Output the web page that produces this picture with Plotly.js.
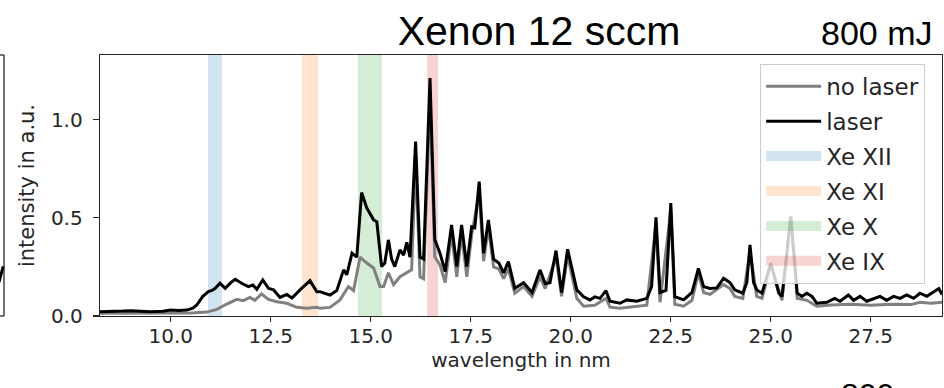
<!DOCTYPE html>
<html><head><meta charset="utf-8">
<script src="https://cdn.plot.ly/plotly-3.0.1.min.js"></script>
<style>html,body{margin:0;padding:0;background:#fff}#chart{width:944px;height:388px}</style>
</head><body><div id="chart"></div>
<script>
// ---- data ----
const wavelengthLaser = [8.23,8.5,8.8,9.0,9.2,9.5,9.8,10.0,10.2,10.4,10.55,10.65,10.8,10.94,11.03,11.11,11.23,11.36,11.5,11.61,11.77,11.94,12.05,12.15,12.3,12.44,12.57,12.73,12.9,13.03,13.23,13.48,13.65,13.73,13.85,13.98,14.15,14.32,14.4,14.53,14.65,14.77,14.9,14.98,15.07,15.15,15.2,15.27,15.35,15.44,15.52,15.6,15.73,15.82,15.9,15.98,16.12,16.23,16.32,16.48,16.6,16.73,16.86,17.02,17.15,17.27,17.4,17.52,17.6,17.71,17.82,17.94,18.07,18.2,18.32,18.44,18.6,18.82,19.03,19.23,19.36,19.48,19.63,19.77,19.92,20.03,20.15,20.32,20.48,20.6,20.73,20.88,20.98,21.23,21.4,21.65,21.9,22.02,22.13,22.23,22.38,22.5,22.6,22.82,23.03,23.19,23.32,23.48,23.65,23.82,23.98,24.1,24.3,24.4,24.48,24.57,24.65,24.78,25.0,25.2,25.28,25.5,25.66,25.78,25.9,26.03,26.15,26.4,26.6,26.73,26.94,27.07,27.23,27.4,27.57,27.73,27.9,28.07,28.23,28.4,28.57,28.73,28.9,29.07,29.2,29.28];
const intensityLaser = [0.022,0.022,0.025,0.027,0.024,0.022,0.024,0.03,0.028,0.03,0.04,0.056,0.1,0.124,0.13,0.141,0.167,0.141,0.17,0.187,0.167,0.15,0.158,0.136,0.184,0.141,0.133,0.095,0.11,0.092,0.133,0.18,0.124,0.124,0.115,0.107,0.13,0.235,0.21,0.32,0.30,0.629,0.55,0.524,0.49,0.48,0.39,0.252,0.27,0.388,0.29,0.252,0.337,0.31,0.375,0.30,0.889,0.30,0.29,1.213,0.39,0.32,0.226,0.464,0.252,0.464,0.252,0.455,0.45,0.685,0.32,0.49,0.29,0.27,0.22,0.277,0.141,0.17,0.12,0.235,0.165,0.17,0.333,0.12,0.34,0.245,0.133,0.098,0.082,0.098,0.09,0.129,0.075,0.065,0.082,0.075,0.09,0.15,0.503,0.12,0.13,0.575,0.098,0.082,0.12,0.243,0.15,0.14,0.143,0.192,0.17,0.133,0.116,0.17,0.362,0.17,0.133,0.116,0.27,0.116,0.099,0.507,0.116,0.1,0.116,0.1,0.065,0.07,0.09,0.075,0.107,0.08,0.1,0.075,0.09,0.1,0.08,0.1,0.09,0.107,0.09,0.116,0.1,0.124,0.14,0.11];
const wavelengthNoLaser = [8.23,9.0,10.0,10.5,10.9,11.15,11.4,11.65,11.81,11.98,12.1,12.27,12.44,12.65,12.9,13.15,13.4,13.65,13.73,13.98,14.23,14.44,14.57,14.73,14.9,15.07,15.23,15.32,15.44,15.57,15.73,15.9,16.02,16.12,16.23,16.32,16.48,16.6,16.73,16.86,17.02,17.15,17.27,17.4,17.52,17.71,17.82,17.94,18.07,18.2,18.32,18.44,18.6,18.82,19.03,19.23,19.36,19.63,19.77,19.92,20.03,20.15,20.32,20.6,20.88,20.98,21.23,21.65,21.9,22.13,22.23,22.5,22.6,22.82,23.03,23.19,23.32,23.48,23.82,23.98,24.1,24.3,24.48,24.65,24.78,25.0,25.28,25.5,25.66,25.9,26.15,26.5,27.0,27.5,28.0,28.5,28.73,29.0,29.28];
const intensityNoLaser = [0.014,0.015,0.014,0.015,0.02,0.034,0.061,0.085,0.078,0.095,0.08,0.112,0.085,0.073,0.065,0.044,0.04,0.044,0.039,0.044,0.082,0.15,0.13,0.30,0.27,0.245,0.15,0.15,0.22,0.16,0.20,0.22,0.235,0.8,0.2,0.19,1.12,0.3,0.26,0.17,0.42,0.2,0.42,0.2,0.41,0.63,0.28,0.45,0.25,0.24,0.19,0.24,0.116,0.15,0.1,0.2,0.14,0.3,0.1,0.31,0.2,0.09,0.05,0.055,0.09,0.045,0.04,0.048,0.055,0.47,0.07,0.54,0.06,0.05,0.08,0.22,0.12,0.11,0.16,0.14,0.1,0.09,0.33,0.1,0.09,0.26,0.08,0.507,0.09,0.08,0.05,0.056,0.06,0.055,0.06,0.058,0.07,0.065,0.07];
const bandNames = ['Xe XII', 'Xe XI', 'Xe X', 'Xe IX'];
const bandStart = [10.93, 13.28, 14.68, 16.41];
const bandEnd = [11.28, 13.68, 15.28, 16.68];
const bandColors = ['rgba(31,119,180,0.2)', 'rgba(255,127,14,0.2)', 'rgba(44,160,44,0.2)', 'rgba(214,39,40,0.2)'];
const xTickVals = [10, 12.5, 15, 17.5, 20, 22.5, 25, 27.5];
const xTickText = ['10.0', '12.5', '15.0', '17.5', '20.0', '22.5', '25.0', '27.5'];
const yTickVals = [0, 0.5, 1.0];
const yTickText = ['0.0', '0.5', '1.0'];
const X_RANGE = [8.23, 29.28];
const Y_RANGE = [0, 1.33];

const FONT = 'DejaVu Sans, sans-serif';
const traces = [];
bandNames.forEach((name, i) => {
  // shaded wavelength band (axvspan-like)
  traces.push({
    type: 'scatter', mode: 'lines', name: name, showlegend: false,
    x: [bandStart[i], bandStart[i], bandEnd[i], bandEnd[i]],
    y: [Y_RANGE[0], Y_RANGE[1], Y_RANGE[1], Y_RANGE[0]],
    fill: 'toself', fillcolor: bandColors[i],
    line: {width: 0, color: bandColors[i]}, hoverinfo: 'skip'
  });
  // legend entry for the band
  traces.push({
    type: 'scatter', mode: 'lines', name: name, x: [null], y: [null],
    line: {width: 14, color: bandColors[i]},
    legendrank: 3 + i, legendgroup: name, hoverinfo: 'skip'
  });
});
traces.push({
  type: 'scatter', mode: 'lines', name: 'no laser',
  x: wavelengthNoLaser, y: intensityNoLaser,
  line: {color: '#808080', width: 3}, legendrank: 1, legendgroup: 'no laser'
});
traces.push({
  type: 'scatter', mode: 'lines', name: 'laser',
  x: wavelengthLaser, y: intensityLaser,
  line: {color: '#000000', width: 3}, legendrank: 2, legendgroup: 'laser'
});

const layout = {
  width: 944, height: 388,
  margin: {l: 100, r: 2, t: 55, b: 72},
  paper_bgcolor: '#ffffff', plot_bgcolor: '#ffffff',
  showlegend: true,
  title: {text: 'Xenon 12 sccm', font: {family: 'Liberation Sans, Arial, sans-serif', size: 41, color: '#000'},
          x: 0.571, xref: 'container', xanchor: 'center', y: 0.92, yref: 'container', yanchor: 'middle'},
  xaxis: {
    range: X_RANGE, tickvals: xTickVals, ticktext: xTickText,
    showgrid: false, zeroline: false, showline: true, mirror: true,
    linecolor: '#262626', linewidth: 1.3, ticks: 'outside', ticklen: 5, tickwidth: 1.2, tickcolor: '#262626',
    ticklabelstandoff: -3,
    tickfont: {family: FONT, size: 20, color: '#262626'},
    title: {text: 'wavelength in nm', font: {family: FONT, size: 20, color: '#262626'}, standoff: 4}
  },
  yaxis: {
    range: Y_RANGE, tickvals: yTickVals, ticktext: yTickText,
    showgrid: false, zeroline: false, showline: true, mirror: true,
    linecolor: '#262626', linewidth: 1.3, ticks: 'outside', ticklen: 6, tickwidth: 1.2, tickcolor: '#262626',
    ticklabelstandoff: 6,
    tickfont: {family: FONT, size: 20, color: '#262626'},
    title: {text: 'intensity in a.u.', font: {family: FONT, size: 21, color: '#262626'}, standoff: 10}
  },
  legend: {
    x: 0.98, xanchor: 'right', y: 0.966, yanchor: 'top',
    bgcolor: 'rgba(255,255,255,0.8)', bordercolor: '#cccccc', borderwidth: 1,
    font: {family: FONT, size: 23, color: '#262626'},
    itemwidth: 55, traceorder: 'grouped', tracegroupgap: 2
  },
  annotations: [
    {text: '800 mJ', xref: 'paper', yref: 'paper', x: 0.923, y: 1.084, xanchor: 'center', yanchor: 'middle',
     showarrow: false, font: {family: 'Liberation Sans, Arial, sans-serif', size: 34, color: '#000'}},
    {text: '800', xref: 'paper', yref: 'paper', x: 0.911, y: -0.303, xanchor: 'center', yanchor: 'middle',
     showarrow: false, font: {family: 'Liberation Sans, Arial, sans-serif', size: 32, color: '#000'}}
  ],
  shapes: [
    {type: 'line', xref: 'paper', yref: 'paper', x0: -0.1140, x1: -0.1140, y0: 0, y1: 1, line: {color: '#262626', width: 1.3}},
    {type: 'line', xref: 'paper', yref: 'paper', x0: -0.1200, x1: -0.1140, y0: 1, y1: 1, line: {color: '#262626', width: 1.3}},
    {type: 'line', xref: 'paper', yref: 'paper', x0: -0.1200, x1: -0.1140, y0: 0, y1: 0, line: {color: '#262626', width: 1.3}},
    {type: 'line', xref: 'paper', yref: 'paper', x0: -0.1200, x1: -0.1150, y0: 0.13, y1: 0.19, line: {color: '#000', width: 3}}
  ]
};

Plotly.newPlot('chart', traces, layout, {staticPlot: true, displayModeBar: false});
</script>
</body></html>
